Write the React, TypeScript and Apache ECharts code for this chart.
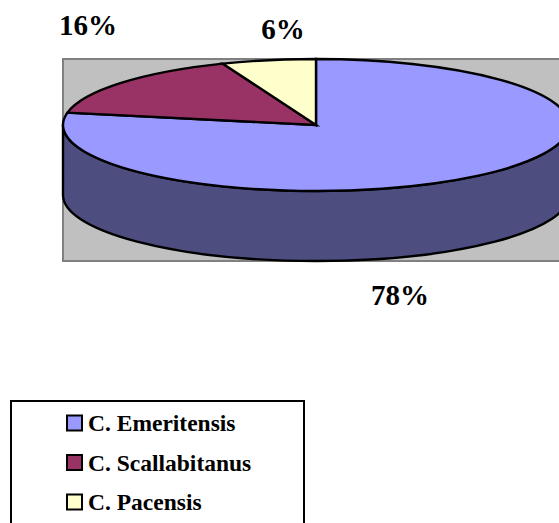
import React, { useEffect, useRef } from "react";
import * as echarts from "echarts";

const names = ["C. Emeritensis", "C. Scallabitanus", "C. Pacensis"];
const values = [78, 16, 6];
const colors = ["#9999ff", "#993366", "#ffffcc"];
const sideColors = ["#4d4d80", "#4d1a33", "#808066"];
const labelAnchors = [
  [400, 295],
  [88, 25],
  [283, 29],
];

const CX = 316;
const CY = 125;
const RX = 253;
const RY = 66;
const DEPTH = 70;
const SERIF = '"Liberation Serif", "Times New Roman", serif';

const pt = (deg: number, dy = 0) => {
  const t = (deg * Math.PI) / 180;
  return [CX + RX * Math.sin(t), CY - RY * Math.cos(t) + dy];
};
const f = (p: number[]) => `${p[0].toFixed(2)} ${p[1].toFixed(2)}`;

function makeSeries(index: number) {
  const total = values.reduce((a, b) => a + b, 0);
  const startValue = values.slice(0, index).reduce((a, b) => a + b, 0);
  return {
    type: "custom",
    name: names[index],
    coordinateSystem: "none",
    data: [[values[index]]],
    z: 3,
    silent: true,
    renderItem: (_params: any, api: any) => {
      const v = api.value(0);
      const a0 = (startValue / total) * 360;
      const a1 = ((startValue + v) / total) * 360;
      const children: any[] = [];
      const s0 = Math.max(a0, 90);
      const s1 = Math.min(a1, 270);
      if (s1 > s0) {
        children.push({
          type: "path",
          shape: {
            pathData: `M ${f(pt(s0))} A ${RX} ${RY} 0 0 1 ${f(pt(s1))} L ${f(pt(s1, DEPTH))} A ${RX} ${RY} 0 0 0 ${f(pt(s0, DEPTH))} Z`,
          },
          style: { fill: sideColors[index], stroke: "#000", lineWidth: 2.4 },
        });
      }
      const large = a1 - a0 > 180 ? 1 : 0;
      children.push({
        type: "path",
        shape: {
          pathData: `M ${CX} ${CY} L ${f(pt(a0))} A ${RX} ${RY} 0 ${large} 1 ${f(pt(a1))} Z`,
        },
        style: { fill: colors[index], stroke: "#000", lineWidth: 2.4, lineJoin: "miter" },
      });
      children.push({
        type: "text",
        style: {
          text: `${v}%`,
          x: labelAnchors[index][0],
          y: labelAnchors[index][1],
          align: "center",
          verticalAlign: "middle",
          font: `bold 29px ${SERIF}`,
          fill: "#000",
        },
      });
      return { type: "group", children };
    },
  };
}

export default function App() {
  const ref = useRef<HTMLDivElement>(null);
  useEffect(() => {
    document.body.style.margin = "0";
    const chart = echarts.init(ref.current!, undefined, { renderer: "svg" });
    chart.setOption({
      animation: false,
      backgroundColor: "#ffffff",
      graphic: [
        {
          type: "rect",
          z: 0,
          shape: { x: 63, y: 59, width: 560, height: 202 },
          style: { fill: "#c0c0c0", stroke: "#808080", lineWidth: 2 },
        },
        {
          type: "rect",
          z: 0,
          shape: { x: 11, y: 401, width: 293, height: 160 },
          style: { fill: "#ffffff", stroke: "#000000", lineWidth: 2 },
        },
      ],
      legend: {
        orient: "vertical",
        left: 66,
        top: 411,
        padding: 0,
        z: 5,
        itemWidth: 15,
        itemHeight: 15,
        itemGap: 15.5,
        selectedMode: false,
        icon: "rect",
        textStyle: {
          fontFamily: SERIF,
          fontWeight: "bold",
          fontSize: 23.5,
          color: "#000",
          padding: [0, 0, 0, 1],
        },
        data: names.map((name, i) => ({
          name,
          itemStyle: { color: colors[i], borderColor: "#000", borderWidth: 2 },
        })),
      },
      series: names.map((_, i) => makeSeries(i)),
    });
    return () => chart.dispose();
  }, []);
  return <div ref={ref} style={{ width: 559, height: 523 }} />;
}
